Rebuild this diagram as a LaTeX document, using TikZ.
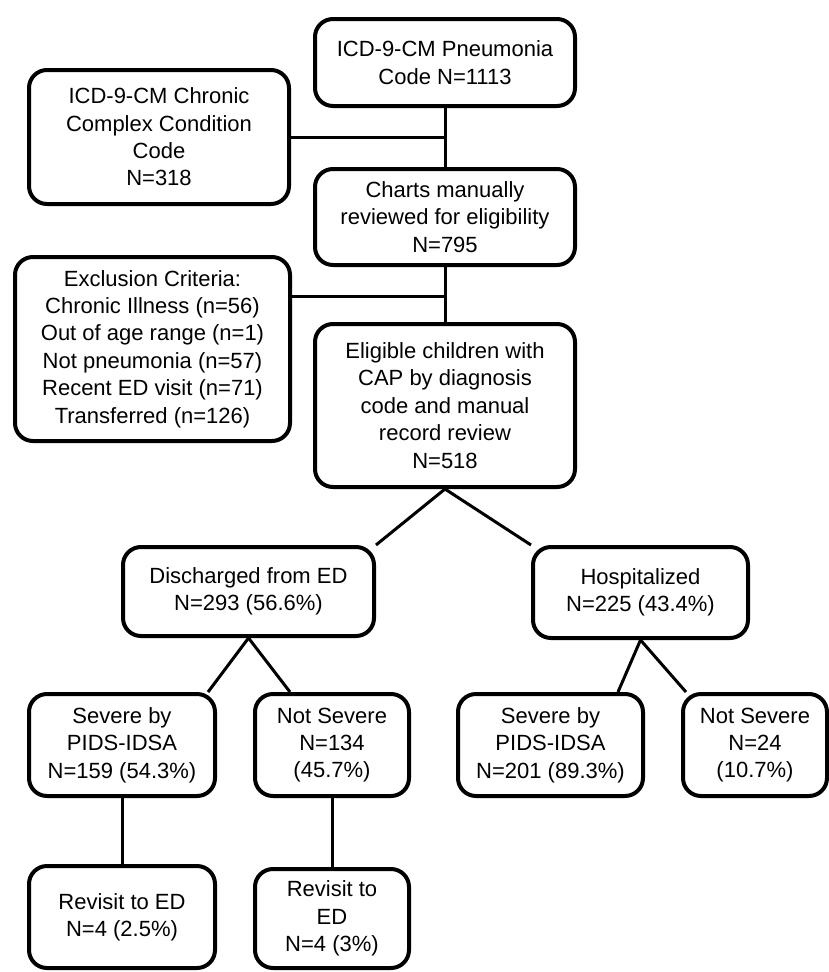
\documentclass[tikz,border=0pt]{standalone}
\usepackage{fontspec}
\setmainfont{Liberation Sans}
\begin{document}
\begin{tikzpicture}[x=1pt, y=-1pt,
		box/.style={draw, line width=4pt, rounded corners=18pt, align=center, inner sep=0pt,
			font=\fontsize{22}{27.4}\selectfont},
		link/.style={line width=3pt}]
		\useasboundingbox (0,0) rectangle (829,972);

		\node[box, minimum width=260, minimum height=87] (pneu) at (445,62.5) {ICD-9-CM Pneumonia\\Code N=1113};
		\node[box, minimum width=260, minimum height=134] (chronic) at (159,137) {ICD-9-CM Chronic\\Complex Condition\\Code\\N=318};
		\node[box, minimum width=260, minimum height=96] (charts) at (445,217) {Charts manually\\reviewed for eligibility\\N=795};
		\node[box, minimum width=275, minimum height=184] (excl) at (152.5,349) {Exclusion Criteria:\\Chronic Illness (n=56)\\Out of age range (n=1)\\Not pneumonia (n=57)\\Recent ED visit (n=71)\\Transferred (n=126)};
		\node[box, minimum width=260, minimum height=163] (elig) at (445,405.5) {Eligible children with\\CAP by diagnosis\\code and manual\\record review\\N=518};

		\node[box, minimum width=251, minimum height=89] (disch) at (248.5,591.5) {Discharged from ED\\N=293 (56.6\%)};
		\node[box, minimum width=215, minimum height=91] (hosp) at (640.5,592.5) {Hospitalized\\N=225 (43.4\%)};

		\node[box, minimum width=186, minimum height=102] (sev1) at (122,745) {Severe by\\PIDS-IDSA\\N=159 (54.3\%)};
		\node[box, minimum width=154, minimum height=102] (nsev1) at (332,745) {Not Severe\\N=134\\(45.7\%)};
		\node[box, minimum width=185, minimum height=102] (sev2) at (550.5,745) {Severe by\\PIDS-IDSA\\N=201 (89.3\%)};
		\node[box, minimum width=144, minimum height=102] (nsev2) at (755,745) {Not Severe\\N=24\\(10.7\%)};

		\node[box, minimum width=186, minimum height=102] (rev1) at (122,917) {Revisit to ED\\N=4 (2.5\%)};
		\node[box, minimum width=154, minimum height=99] (rev2) at (332,918.5) {Revisit to\\ED\\N=4 (3\%)};

		\coordinate (exclj) at (445,296);

		\draw[link] (pneu) -- (charts);
		\draw[link] (chronic.east) -- (chronic.east -| pneu.south);
		\draw[link] (charts) -- (elig);
		\draw[link] (exclj -| excl.east) -- (exclj);

		\draw[link] (elig.south) -- (disch.north east);
		\draw[link] (elig.south) -- (hosp.north west);

		\draw[link] (disch.south) -- ([xshift=-9pt]sev1.north east);
		\draw[link] (disch.south) -- ([xshift=-42pt]nsev1.north);
		\draw[link] (hosp.south) -- ([xshift=-27pt]sev2.north east);
		\draw[link] (hosp.south) -- ([xshift=5pt]nsev2.north west);

		\draw[link] (sev1) -- (rev1);
		\draw[link] (nsev1) -- (rev2);

	\end{tikzpicture}
\end{document}
